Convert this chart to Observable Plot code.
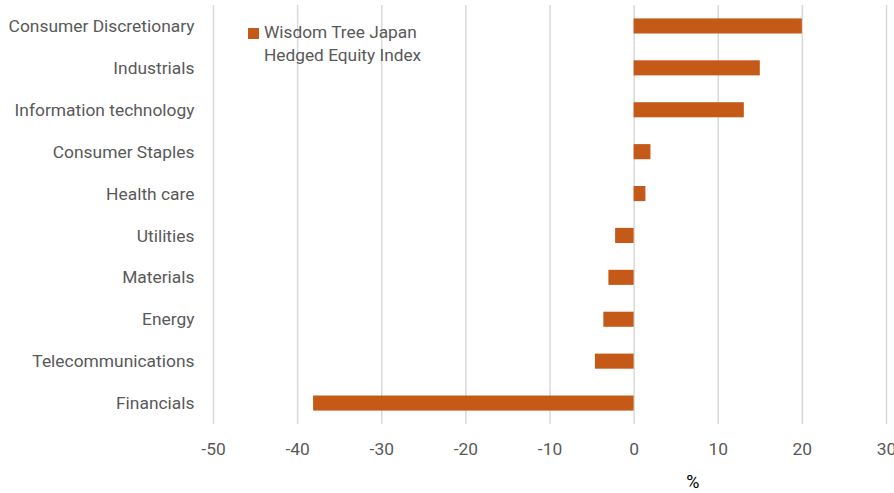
<!DOCTYPE html>
<html>
<head>
<meta charset="utf-8">
<script src="https://cdn.jsdelivr.net/npm/d3@7"></script>
<script src="https://cdn.jsdelivr.net/npm/@observablehq/plot@0.6"></script>
<style>
  html, body { margin: 0; padding: 0; background: #fff; }
  #wrap { position: relative; width: 894px; height: 493px; overflow: hidden; font-family: Roboto, "Liberation Sans", sans-serif; }
  .legend { position: absolute; left: 248px; top: 21px; font-size: 17.3px; color: #595959; line-height: 23px; }
  .legend .sw { position: absolute; left: 0; top: 7px; width: 11px; height: 11px; background: #C55A18; }
  .legend .tx { margin-left: 16px; }
</style>
</head>
<body>
<div id="wrap">
  <div id="chart"></div>
  <div class="legend"><span class="sw"></span><div class="tx">Wisdom Tree Japan<br>Hedged Equity Index</div></div>
</div>
<script>
const sectors = ["Consumer Discretionary", "Industrials", "Information technology", "Consumer Staples", "Health care", "Utilities", "Materials", "Energy", "Telecommunications", "Financials"];
const values = [20.0, 15.0, 13.1, 2.0, 1.4, -2.2, -3.0, -3.6, -4.6, -38.1];
const xTicks = [-50, -40, -30, -20, -10, 0, 10, 20, 30];
const seriesName = "Wisdom Tree Japan Hedged Equity Index";

const data = sectors.map((s, i) => ({sector: s, value: values[i]}));

const chart = Plot.plot({
  width: 894,
  height: 493,
  marginTop: 5,
  marginBottom: 69,
  marginLeft: 213,
  marginRight: 8,
  style: {fontFamily: "Roboto, 'Liberation Sans', sans-serif", fontSize: "17.4px", color: "#595959", overflow: "visible"},
  x: {domain: [-50, 30], ticks: xTicks},
  y: {domain: sectors, paddingInner: 0.64, paddingOuter: 0.32, round: false},
  marks: [
    Plot.gridX(xTicks, {stroke: "#d9d9d9", strokeOpacity: 1, strokeWidth: 1.5}),
    Plot.barX(data, {x: "value", y: "sector", fill: "#C55A18"}),
    Plot.axisX({ticks: xTicks, tickSize: 0, tickPadding: 18, label: null, fill: "#595959", fontSize: 17.4, tickFormat: d => d < 0 ? "-" + Math.abs(d) : String(d)}),
    Plot.axisY({tickSize: 0, tickPadding: 19, label: null, fill: "#595959", fontSize: 17.4}),
    Plot.text(["%"], {frameAnchor: "bottom-right", dx: -187, dy: 63, fill: "#000", fontSize: 18})
  ]
});
document.getElementById("chart").appendChild(chart);
</script>
</body>
</html>
